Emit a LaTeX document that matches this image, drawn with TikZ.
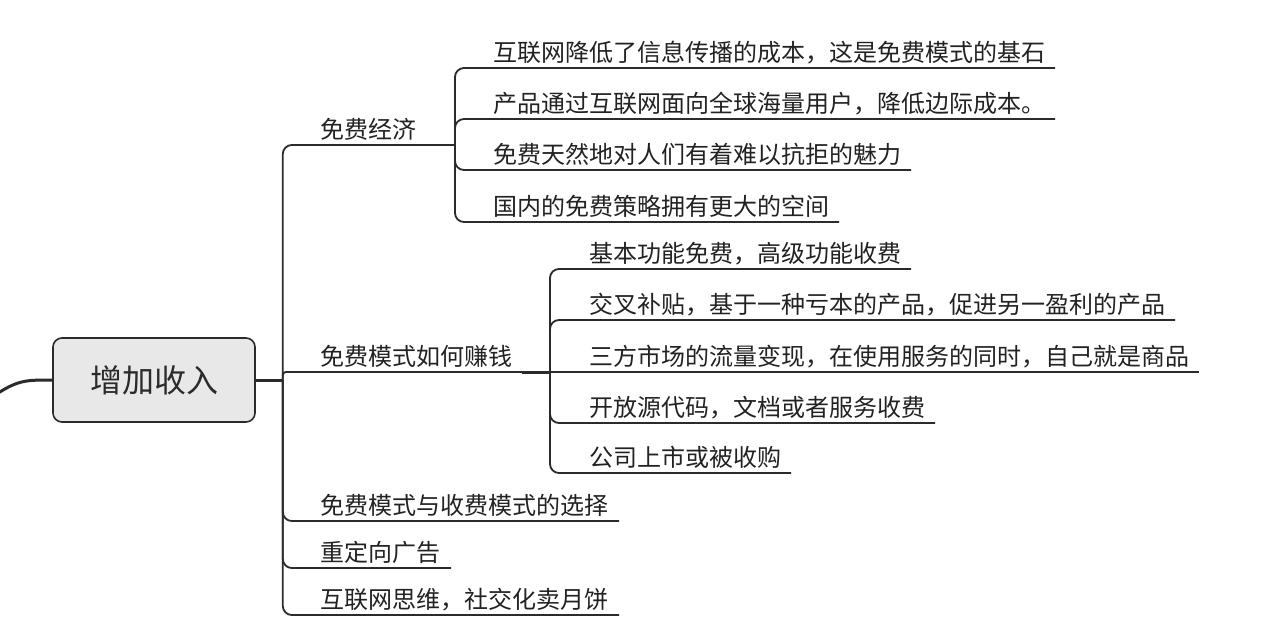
\documentclass[tikz,border=0pt]{standalone}
\usepackage{fontspec}
\setmainfont{Noto Sans CJK SC}
\usetikzlibrary{calc}
\definecolor{ink}{HTML}{2B2B2B}
\definecolor{txt}{HTML}{222222}
\definecolor{rootfill}{HTML}{E8E8E8}
\begin{document}
\begin{tikzpicture}[x=1pt,y=-1pt,
  topic/.style={anchor=south west, inner sep=0pt, outer sep=0pt, text depth=6.5pt,
    font=\fontsize{24}{24}\selectfont, text=txt},
  rootbox/.style={draw=ink, fill=rootfill, line width=1.6pt, rounded corners=9pt,
    minimum width=202pt, minimum height=84pt, inner sep=0pt,
    font=\fontsize{32}{32}\selectfont, text=ink},
  conn/.style={draw=ink, line width=1.8pt, rounded corners=9pt},
  thickconn/.style={draw=ink, line width=3pt},
]
\useasboundingbox[fill=white] (0,0) rectangle (1264,642);

% root
\node[rootbox] (r) at (154,380) {增加收入};
\coordinate (L) at (-40,420);
\coordinate (J0) at ($(r.east)+(27,0)$);
\draw[thickconn] (L) .. controls (15,380) .. (r.west);
\draw[thickconn] (r.east) -- (J0);

% level 1
\node[topic] (a) at (320,145) {免费经济};
\node[topic] (b) at (320,372) {免费模式如何赚钱};
\node[topic] (c) at (320,521) {免费模式与收费模式的选择};
\node[topic] (d) at (320,568) {重定向广告};
\node[topic] (e) at (320,615) {互联网思维，社交化卖月饼};

\coordinate (J1) at (455,145);
\coordinate (J2) at (550,372);

\draw[conn] (J0) |- (J1);
\draw[conn, rounded corners=3pt] (J0) |- ($(b.south east)+(11,0)$);
\draw[thickconn] ($(b.south east)+(10,0)$) -- (J2);
\draw[conn] (J0) |- ($(c.south east)+(11,0)$);
\draw[conn] (J0) |- ($(d.south east)+(11,0)$);
\draw[conn] (J0) |- ($(e.south east)+(11,0)$);

% children of 免费经济
\node[topic] (a1) at (493,68) {互联网降低了信息传播的成本，这是免费模式的基石};
\node[topic] (a2) at (493,119) {产品通过互联网面向全球海量用户，降低边际成本。};
\node[topic] (a3) at (493,170) {免费天然地对人们有着难以抗拒的魅力};
\node[topic] (a4) at (493,222) {国内的免费策略拥有更大的空间};
\draw[conn] (J1) |- ($(a1.south east)+(10,0)$);
\draw[conn] (J1) |- ($(a2.south east)+(10,0)$);
\draw[conn] (J1) |- ($(a3.south east)+(10,0)$);
\draw[conn] (J1) |- ($(a4.south east)+(10,0)$);

% children of 免费模式如何赚钱
\node[topic] (b1) at (589,269) {基本功能免费，高级功能收费};
\node[topic] (b2) at (589,320) {交叉补贴，基于一种亏本的产品，促进另一盈利的产品};
\node[topic] (b3) at (589,372) {三方市场的流量变现，在使用服务的同时，自己就是商品};
\node[topic] (b4) at (589,423) {开放源代码，文档或者服务收费};
\node[topic] (b5) at (589,473) {公司上市或被收购};
\draw[conn] (J2) |- ($(b1.south east)+(10,0)$);
\draw[conn] (J2) |- ($(b2.south east)+(10,0)$);
\draw[conn] (J2) -- ($(b3.south east)+(10,0)$);
\draw[conn] (J2) |- ($(b4.south east)+(10,0)$);
\draw[conn] (J2) |- ($(b5.south east)+(10,0)$);
\end{tikzpicture}
\end{document}
